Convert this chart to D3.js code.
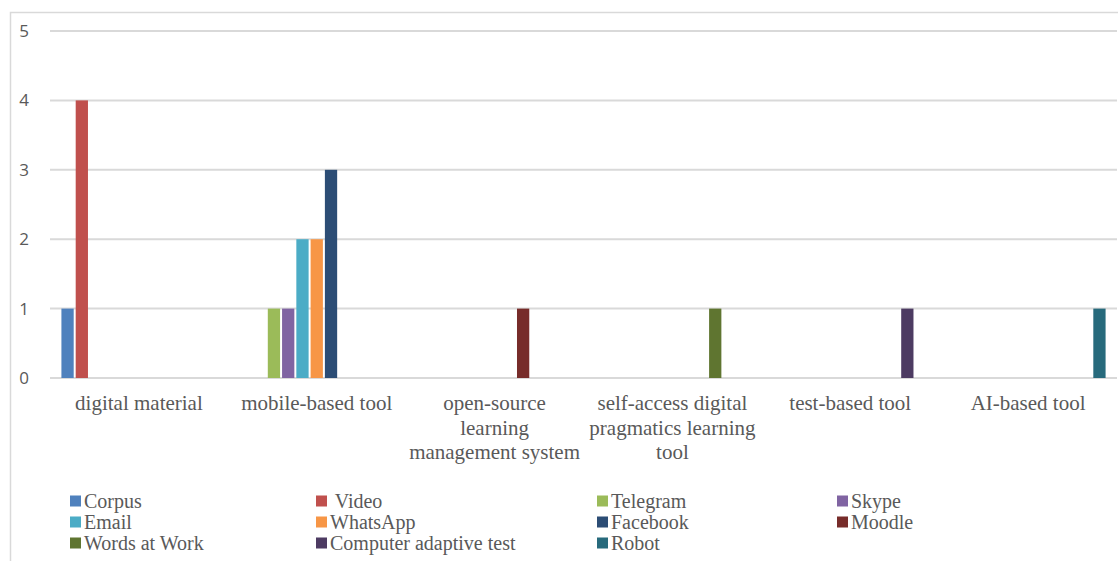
<!DOCTYPE html>
<html>
<head>
<meta charset="utf-8">
<script src="https://cdnjs.cloudflare.com/ajax/libs/d3/7.8.5/d3.min.js"></script>
<style>
  body { margin: 0; background: #fff; }
  svg { display: block; }
</style>
</head>
<body>
<script>
// chart data
var categories = [
    "digital material",
    "mobile-based tool",
    "open-source learning management system",
    "self-access digital pragmatics learning tool",
    "test-based tool",
    "AI-based tool"
];
var categoryLines = [
    ["digital material"],
    ["mobile-based tool"],
    ["open-source", "learning", "management system"],
    ["self-access digital", "pragmatics learning", "tool"],
    ["test-based tool"],
    ["AI-based tool"]
];
var seriesNames = ["Corpus", " Video", "Telegram", "Skype", "Email", "WhatsApp",
    "Facebook", "Moodle", "Words at Work", "Computer adaptive test", "Robot"];
var corpus       = [1, 0, 0, 0, 0, 0];
var video        = [4, 0, 0, 0, 0, 0];
var telegram     = [0, 1, 0, 0, 0, 0];
var skype        = [0, 1, 0, 0, 0, 0];
var email        = [0, 2, 0, 0, 0, 0];
var whatsapp     = [0, 2, 0, 0, 0, 0];
var facebook     = [0, 3, 0, 0, 0, 0];
var moodle       = [0, 0, 1, 0, 0, 0];
var wordsAtWork  = [0, 0, 0, 1, 0, 0];
var adaptiveTest = [0, 0, 0, 0, 1, 0];
var robot        = [0, 0, 0, 0, 0, 1];
var seriesValues = [corpus, video, telegram, skype, email, whatsapp,
    facebook, moodle, wordsAtWork, adaptiveTest, robot];
var yTicks = [0, 1, 2, 3, 4, 5];

var colors = ["#4f81bd", "#c0504d", "#9bbb59", "#8064a2", "#4bacc6", "#f79646",
    "#2c4d75", "#772c2a", "#5f7530", "#4d3b62", "#276a7c"];

window.onload = function(){
    var w = 1118, h = 561;
    var svg = d3.select("body").append("svg")
        .attr("width", w)
        .attr("height", h);

    //outer chart frame
    svg.append("path")
        .attr("d", "M10.5," + h + "V12.5H" + w)
        .attr("fill", "none")
        .attr("stroke", "#d9d9d9")
        .attr("stroke-width", 1.5);

    var left = 50, right = 1117, top = 31, bottom = 378;

    var y = d3.scaleLinear().domain([0, 5]).range([bottom, top]);
    var x0 = d3.scaleBand().domain(categories).range([left, right]);
    var x1 = d3.scaleBand().domain(d3.range(seriesNames.length))
        .range([0, x0.bandwidth()])
        .paddingInner(0.14)
        .paddingOuter(0.8);

    //gridlines
    svg.selectAll(".grid")
        .data(yTicks)
        .enter()
        .append("line")
        .attr("class", "grid")
        .attr("x1", left)
        .attr("x2", right)
        .attr("y1", function(d){ return y(d); })
        .attr("y2", function(d){ return y(d); })
        .attr("stroke", "#d9d9d9")
        .attr("stroke-width", 2);

    //y tick labels
    svg.selectAll(".ytick")
        .data(yTicks)
        .enter()
        .append("text")
        .attr("class", "ytick")
        .attr("x", 29)
        .attr("y", function(d){ return y(d) + 6; })
        .attr("text-anchor", "end")
        .attr("font-family", "'Open Sans', 'Liberation Sans', sans-serif")
        .attr("font-size", 17)
        .attr("fill", "#595959")
        .text(function(d){ return d; });

    //bars
    var groups = svg.selectAll(".series")
        .data(seriesValues)
        .enter()
        .append("g")
        .attr("class", "series")
        .attr("fill", function(d, i){ return colors[i]; });

    groups.each(function(vals, si){
        d3.select(this).selectAll("rect")
            .data(vals.map(function(v, ci){ return {v: v, c: categories[ci]}; })
                .filter(function(d){ return d.v > 0; }))
            .enter()
            .append("rect")
            .attr("x", function(d){ return x0(d.c) + x1(si); })
            .attr("width", x1.bandwidth())
            .attr("y", function(d){ return y(d.v); })
            .attr("height", function(d){ return y(0) - y(d.v); });
    });

    //category labels
    var cats = svg.selectAll(".cat")
        .data(categories)
        .enter()
        .append("text")
        .attr("class", "cat")
        .attr("x", function(d){ return x0(d) + x0.bandwidth() / 2; })
        .attr("y", 410)
        .attr("text-anchor", "middle")
        .attr("font-family", "'Liberation Serif', 'Times New Roman', serif")
        .attr("font-size", 21)
        .attr("fill", "#595959");
    cats.each(function(d, i){
        d3.select(this).selectAll("tspan")
            .data(categoryLines[i])
            .enter()
            .append("tspan")
            .attr("x", x0(d) + x0.bandwidth() / 2)
            .attr("dy", function(l, j){ return j === 0 ? 0 : 24.5; })
            .text(function(l){ return l; });
    });

    //legend
    var colX = [70, 316, 597, 837];
    var rowY = [501, 522, 543];
    var legend = svg.selectAll(".legend")
        .data(seriesNames)
        .enter()
        .append("g")
        .attr("class", "legend")
        .attr("transform", function(d, i){
            return "translate(" + colX[i % 4] + "," + rowY[Math.floor(i / 4)] + ")";
        });
    legend.append("rect")
        .attr("x", 0)
        .attr("y", -5.5)
        .attr("width", 11)
        .attr("height", 11)
        .attr("fill", function(d, i){ return colors[i]; });
    legend.append("text")
        .attr("x", 14)
        .attr("y", 6.5)
        .attr("xml:space", "preserve")
        .style("white-space", "pre")
        .attr("font-family", "'Liberation Serif', 'Times New Roman', serif")
        .attr("font-size", 20)
        .attr("fill", "#595959")
        .text(function(d){ return d; });
};
</script>
</body>
</html>
